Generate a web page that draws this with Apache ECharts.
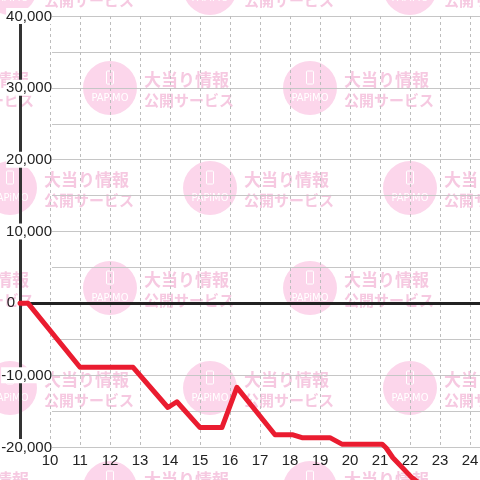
<!DOCTYPE html>
<html>
<head>
<meta charset="utf-8">
<script src="https://cdn.jsdelivr.net/npm/echarts@6/dist/echarts.min.js"></script>
<style>
  html, body { margin: 0; padding: 0; background: #fff; }
  #chart { width: 480px; height: 480px; }
</style>
</head>
<body>
<div id="chart"></div>
<script>
// 時刻ごとの差枚推移
const hours   = [9.0, 9.27, 11.0, 12.77, 13.93, 14.23, 15.0, 15.73, 16.23, 17.5, 18.1, 18.4, 19.33, 19.73, 21.07, 21.2, 21.43, 22.07, 22.3]
const balance = [0, 0, -8900, -8900, -14500, -13700, -17300, -17300, -11700, -18300, -18300, -18700, -18700, -19600, -19600, -20100, -21500, -24300, -25000]
const hourTicks = [10, 11, 12, 13, 14, 15, 16, 17, 18, 19, 20, 21, 22, 23, 24]
const yTicks = [-20000, -10000, 0, 10000, 20000, 30000, 40000]

const chart = echarts.init(document.getElementById('chart'))
const FONT = '"Liberation Sans", Arial, sans-serif'

// 背景のウォーターマーク
const PINK = '#fcd6eb'
const PINK_TEXT = '#f6c9e1'
const marks = []
for (let k = 0; k < 6; k++) {
  const cy = -12 + k * 100
  const startX = k % 2 === 0 ? 10 : -90
  for (let cx = startX; cx < 520; cx += 200) {
    marks.push(
      { type: 'circle', shape: { cx, cy, r: 27 }, style: { fill: PINK }, z: -100, silent: true },
      { type: 'rect', shape: { x: cx - 3.5, y: cy - 17, width: 7, height: 13, r: 1 },
        style: { fill: 'none', stroke: '#fff', lineWidth: 1 }, z: -99, silent: true },
      { type: 'text', x: cx, y: cy + 10, z: -99, silent: true,
        style: { text: 'PAPiMO', fill: '#fff', font: '11px "DejaVu Sans Condensed", sans-serif', align: 'center', verticalAlign: 'middle' } },
      { type: 'text', x: cx + 34, y: cy - 8, z: -99, silent: true,
        style: { text: '大当り情報', fill: PINK_TEXT, font: 'bold 17px "Noto Sans CJK JP"', verticalAlign: 'middle' } },
      { type: 'text', x: cx + 34, y: cy + 12, z: -99, silent: true,
        style: { text: '公開サービス', fill: PINK_TEXT, font: 'bold 15px "Noto Sans CJK JP"', verticalAlign: 'middle' } }
    )
  }
}

const option = {
  animation: false,
  graphic: marks,
  grid: [
    { left: 20, right: 0, top: 16, bottom: 33, outerBoundsMode: 'none' },
    { left: 52, right: 0, top: 16, bottom: 33, outerBoundsMode: 'none' }
  ],
  xAxis: [{
    type: 'value', gridIndex: 0, min: 9, max: 9 + 460 / 30, interval: 1,
    axisLine: { show: false }, axisTick: { show: false },
    splitLine: { show: true, showMinLine: false, showMaxLine: false, lineStyle: { color: '#bdbdbd', type: [3, 3], width: 1 } },
    axisLabel: {
      margin: 6, color: '#222', fontSize: 15, fontFamily: FONT, showMaxLabel: false,
      formatter: v => hourTicks.includes(v) ? String(v) : ''
    }
  }, {
    type: 'value', gridIndex: 1, min: 9 + 32 / 30, max: 9 + 460 / 30, show: false
  }],
  yAxis: [{
    type: 'value', gridIndex: 0, min: -20000, max: 40000, interval: 5000,
    axisLine: { show: true, lineStyle: { color: '#333', width: 3 } },
    axisTick: { show: false },
    splitLine: { show: false },
    axisLabel: {
      margin: -32, align: 'right', color: '#222', fontSize: 15, fontFamily: FONT,
      formatter: v => {
        if (v === 0) return '{z|0}'
        return yTicks.includes(v) ? '{a|' + v.toLocaleString('en-US') + '}' : ''
      },
      rich: {
        a: { backgroundColor: '#fff', fontSize: 15, fontFamily: FONT, color: '#222', lineHeight: 13, padding: [1, 0, 0, 0] },
        z: { fontSize: 15, fontFamily: FONT, color: '#222', padding: [0, 37, 0, 0] }
      }
    }
  }, {
    type: 'value', gridIndex: 1, min: -20000, max: 40000, interval: 5000,
    axisLine: { show: false }, axisTick: { show: false }, axisLabel: { show: false },
    splitLine: { show: true, lineStyle: { color: '#c6c6c6', width: 1.2 } }
  }],
  series: [{
    type: 'line', xAxisIndex: 0, yAxisIndex: 0, data: [], z: 1,
    markLine: {
      silent: true, symbol: 'none', label: { show: false },
      lineStyle: { color: '#222', width: 3, type: 'solid' },
      data: [{ yAxis: 0 }]
    }
  }, {
    type: 'line', xAxisIndex: 0, yAxisIndex: 0, z: 5, clip: false,
    showSymbol: false, smooth: false,
    lineStyle: { color: '#ea1c30', width: 5, join: 'round', cap: 'round' },
    data: hours.map((h, i) => [h, balance[i]])
  }]
}

chart.setOption(option)
window.addEventListener('resize', () => chart.resize())
</script>
</body>
</html>
